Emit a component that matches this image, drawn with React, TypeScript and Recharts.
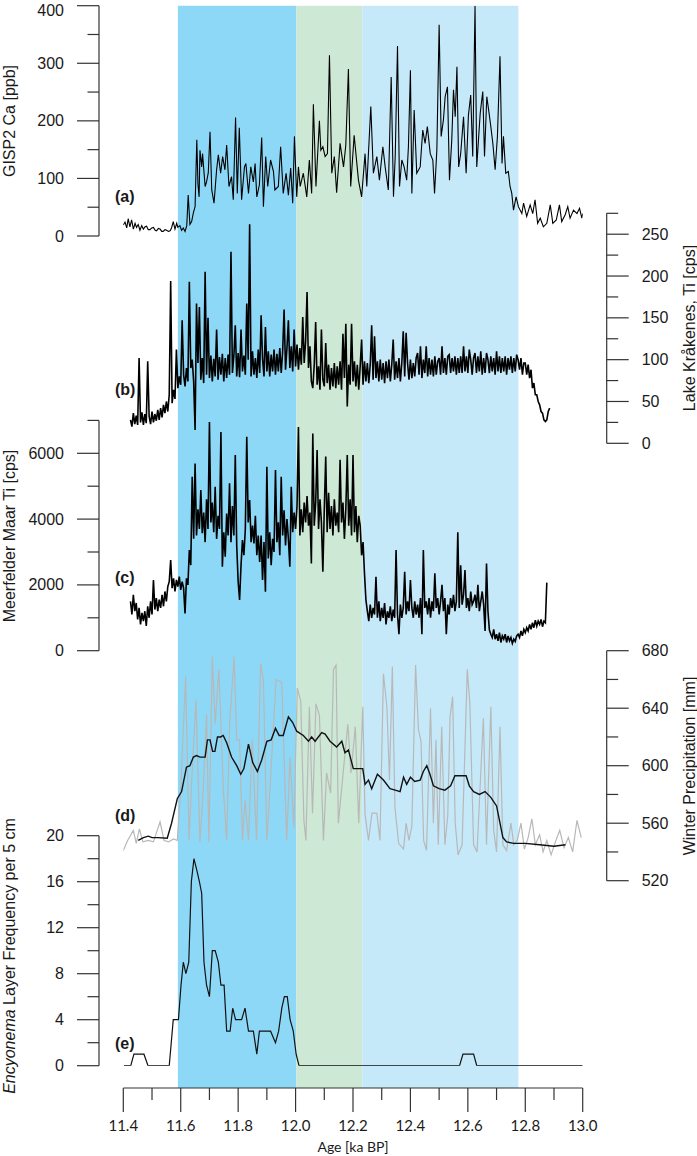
import { LineChart, Line, Area, XAxis, YAxis, ReferenceArea, ReferenceLine } from "recharts";

const W = 697;
const H = 1156;
const PLOT_L = 99;
const PLOT_R = 606.7;
const X_PAD = { left: 24.3, right: 24 };
const AGE_DOMAIN: [number, number] = [11.4, 13.0];
const AXIS = "#333";
const FONT = "'Liberation Sans', Arial, sans-serif";

const X_TICKS = [11.4, 11.5, 11.6, 11.7, 11.8, 11.9, 12.0, 12.1, 12.2, 12.3, 12.4, 12.5, 12.6, 12.7, 12.8, 12.9, 13.0];

// shaded intervals [from, to, colour]
const BANDS: [number, number, string][] = [
  [11.59, 12.003, "#8ed8f7"],
  [12.003, 12.232, "#cde8d4"],
  [12.232, 12.776, "#c6e9fa"],
];

// (a) GISP2 Ca [ppb]
const gispAge = [
  11.400, 11.406, 11.412, 11.417, 11.423, 11.429, 11.435, 11.441, 11.446, 11.452, 11.458, 11.464, 11.470, 11.476,
  11.481, 11.487, 11.493, 11.499, 11.505, 11.511, 11.516, 11.522, 11.528, 11.534, 11.539, 11.545, 11.551, 11.557,
  11.563, 11.568, 11.574, 11.580, 11.586, 11.590, 11.597, 11.603, 11.609, 11.615, 11.621, 11.626, 11.632, 11.638,
  11.644, 11.650, 11.656, 11.660, 11.664, 11.667, 11.673, 11.676, 11.685, 11.690, 11.696, 11.702, 11.708, 11.716,
  11.725, 11.731, 11.739, 11.746, 11.754, 11.760, 11.768, 11.777, 11.783, 11.791, 11.797, 11.804, 11.812, 11.822,
  11.827, 11.836, 11.844, 11.853, 11.859, 11.865, 11.874, 11.882, 11.888, 11.896, 11.903, 11.913, 11.923, 11.928,
  11.940, 11.948, 11.957, 11.967, 11.975, 11.983, 11.990, 11.996, 12.004, 12.010, 12.016, 12.027, 12.039, 12.048,
  12.056, 12.062, 12.071, 12.083, 12.088, 12.095, 12.103, 12.111, 12.118, 12.126, 12.135, 12.143, 12.155, 12.167,
  12.175, 12.184, 12.192, 12.204, 12.219, 12.230, 12.242, 12.248, 12.262, 12.271, 12.283, 12.292, 12.304, 12.312,
  12.323, 12.333, 12.341, 12.347, 12.355, 12.362, 12.370, 12.378, 12.387, 12.393, 12.400, 12.405, 12.413, 12.422,
  12.434, 12.443, 12.451, 12.459, 12.469, 12.478, 12.484, 12.492, 12.500, 12.507, 12.515, 12.521, 12.529, 12.536,
  12.544, 12.550, 12.556, 12.562, 12.568, 12.575, 12.585, 12.594, 12.602, 12.610, 12.617, 12.625, 12.631, 12.637,
  12.643, 12.652, 12.658, 12.666, 12.674, 12.680, 12.687, 12.695, 12.703, 12.712, 12.719, 12.724, 12.732, 12.741,
  12.747, 12.753, 12.759, 12.768, 12.776, 12.788, 12.794, 12.805, 12.817, 12.826, 12.834, 12.843, 12.852, 12.863,
  12.875, 12.887, 12.896, 12.908, 12.919, 12.927, 12.939, 12.948, 12.956, 12.968, 12.980, 12.989, 12.997, 13.000,
];
const gispCa = [
  19, 24, 14, 30, 16, 28, 12, 22, 15, 20, 10, 18, 12, 16,
  17, 11, 11, 14, 15, 10, 9, 13, 12, 8, 8, 11, 10, 8,
  9, 14, 25, 12, 22, 15, 18, 10, 14, 8, 18, 71, 20, 25,
  40, 51, 167, 90, 68, 149, 120, 143, 86, 94, 110, 181, 80, 57,
  115, 141, 109, 138, 115, 158, 86, 103, 63, 206, 74, 188, 63, 120,
  126, 74, 120, 94, 126, 68, 89, 171, 51, 138, 86, 132, 112, 80,
  86, 155, 74, 109, 71, 118, 57, 173, 68, 120, 86, 109, 68, 132,
  74, 229, 86, 200, 149, 155, 138, 143, 314, 109, 138, 75, 161, 120,
  158, 290, 86, 175, 97, 68, 143, 86, 225, 109, 138, 97, 155, 120,
  80, 276, 68, 138, 330, 86, 132, 120, 97, 155, 288, 74, 219, 109,
  120, 184, 161, 190, 143, 132, 74, 149, 367, 173, 202, 242, 259, 97,
  167, 254, 207, 294, 120, 143, 207, 109, 210, 245, 138, 400, 120, 167,
  213, 251, 138, 242, 213, 190, 161, 115, 173, 312, 126, 173, 109, 112,
  86, 74, 45, 68, 51, 39, 57, 34, 54, 39, 63, 22, 31, 16,
  22, 54, 22, 28, 54, 25, 37, 51, 31, 45, 39, 48, 31, 39,
];

// (b) Lake Kråkenes Ti [cps]; 5 samples per 0.025 ka block, first block at 11.425
const KRAK_START = 11.425;
const krakBlocks = [
  [28, 20, 36, 23, 33], [22, 102, 25, 37, 22], [35, 24, 98, 32, 23], [38, 25, 35, 27, 40], [28, 42, 31, 46, 36],
  [50, 38, 58, 194, 48], [64, 53, 112, 66, 80], [70, 147, 82, 68, 90], [74, 193, 90, 100, 74], [16, 167, 96, 163, 76],
  [102, 72, 205, 82, 150], [78, 105, 74, 101, 80], [136, 76, 103, 82, 107], [74, 102, 78, 106, 82], [229, 84, 104, 141, 80],
  [108, 79, 136, 86, 105], [82, 167, 100, 262, 80], [110, 82, 102, 78, 112], [84, 153, 101, 80, 139], [86, 110, 80, 106, 86],
  [112, 82, 107, 86, 114], [84, 110, 160, 88, 114], [147, 90, 116, 86, 136], [92, 118, 88, 114, 94], [151, 96, 122, 181, 90],
  [116, 74, 66, 94, 145], [70, 92, 64, 136, 76], [68, 120, 72, 94, 64], [90, 68, 96, 66, 92], [70, 98, 64, 131, 78],
  [143, 44, 94, 70, 143], [74, 98, 68, 94, 64], [92, 124, 70, 98, 74], [96, 72, 94, 141, 76], [128, 78, 98, 74, 100],
  [76, 96, 72, 98, 78], [100, 74, 94, 124, 76], [98, 78, 102, 74, 96], [134, 80, 132, 96, 76], [100, 78, 96, 80, 102],
  [108, 82, 116, 78, 100], [84, 116, 80, 102, 82], [100, 80, 104, 82, 98], [102, 82, 116, 84, 102], [82, 104, 106, 84, 102],
  [86, 104, 82, 102, 84], [104, 84, 116, 86, 104], [84, 112, 100, 82, 102], [108, 84, 104, 86, 110], [82, 102, 84, 108, 100],
  [84, 104, 86, 102, 82], [110, 86, 104, 84, 102], [86, 104, 82, 102, 88], [104, 84, 102, 86, 106], [100, 88, 102, 82, 96],
  [96, 82, 94, 78, 88], [66, 72, 58, 58, 50], [46, 38, 36, 28, 26], [28, 38, 42],
];

// (c) Meerfelder Maar Ti [cps]; same block layout
const MFM_START = 11.425;
const mfmBlocks = [
  [1500, 1100, 1700, 1200, 1450], [950, 1300, 800, 1150, 900], [1200, 750, 1350, 1000, 1500], [1100, 2150, 1250, 1600, 1200],
  [1550, 1300, 1700, 1350, 1800], [1500, 1950, 2100, 2755, 1900], [2200, 1800, 2150, 1950, 2250], [1850, 2100, 1900, 1135, 2200],
  [2000, 3060, 2600, 5290, 3400], [5690, 3500, 4300, 3700, 4880], [3570, 4200, 3300, 4600, 3700], [6950, 3900, 4500, 3600, 4980],
  [3400, 4100, 3700, 6650, 2550], [3600, 2860, 4170, 3500, 5090], [3300, 4400, 3500, 5950, 3200], [2100, 1540, 2600, 3360, 2900],
  [3700, 6500, 3900, 4580, 3300], [3800, 3260, 4100, 2900, 3500], [2700, 3500, 2150, 3300, 1790], [5590, 2800, 3600, 2600, 3400],
  [3000, 5490, 3300, 3900, 2900], [5290, 3500, 4270, 3200, 4000], [3400, 2550, 4980, 3600, 4200], [3700, 4400, 6800, 3500, 4300],
  [3600, 4500, 3900, 4700, 3800], [4200, 2650, 6600, 3800, 4500], [6100, 3700, 4600, 3900, 2400], [4300, 5900, 3600, 4800, 3700],
  [4400, 3500, 4600, 3800, 4200], [3600, 5800, 3900, 4500, 3400], [4300, 5950, 3800, 4600, 3500], [5950, 3600, 4400, 3300, 4100],
  [3800, 2900, 3300, 2350, 1540], [1200, 900, 1400, 1000, 1300], [1100, 2250, 1000, 1500, 900], [1300, 1000, 1450, 800, 1200],
  [1000, 1350, 900, 1250, 1000], [3060, 1100, 500, 1400, 1000], [1300, 2400, 1100, 1500, 1200], [2150, 1300, 1000, 1500, 1100],
  [1400, 1000, 1600, 500, 3060], [1300, 1500, 1100, 1600, 1000], [1500, 1200, 2350, 1300, 1600], [1100, 1500, 2000, 1200, 1600],
  [500, 1400, 1100, 1600, 1300], [1700, 1200, 1500, 3600, 1300], [2600, 1400, 1700, 2450, 1300], [1600, 1200, 1800, 1400, 1500],
  [1700, 1300, 2000, 1200, 1500], [1800, 1400, 600, 2650, 1200], [630, 500, 400, 650, 350], [500, 300, 550, 250, 450],
  [350, 500, 250, 450, 300], [400, 220, 350, 280, 450], [500, 400, 600, 450, 650], [550, 700, 600, 800, 650],
  [850, 700, 930, 750, 900], [800, 950, 730, 900, 850], [2070],
];

// (d) Winter precipitation [mm]
const precipAge = [
  11.400, 11.415, 11.435, 11.445, 11.456, 11.468, 11.487, 11.505, 11.528, 11.542, 11.558, 11.575, 11.588, 11.600,
  11.617, 11.629, 11.637, 11.653, 11.667, 11.678, 11.690, 11.698, 11.710, 11.720, 11.733, 11.748, 11.760, 11.771,
  11.786, 11.795, 11.805, 11.815, 11.824, 11.836, 11.849, 11.864, 11.878, 11.888, 11.900, 11.912, 11.932, 11.952,
  11.969, 11.981, 11.994, 12.006, 12.018, 12.029, 12.036, 12.048, 12.059, 12.071, 12.083, 12.097, 12.108, 12.122,
  12.132, 12.141, 12.149, 12.160, 12.182, 12.193, 12.208, 12.220, 12.234, 12.242, 12.254, 12.266, 12.283, 12.294,
  12.306, 12.318, 12.327, 12.337, 12.346, 12.359, 12.376, 12.385, 12.395, 12.405, 12.418, 12.428, 12.437, 12.446,
  12.456, 12.470, 12.480, 12.489, 12.497, 12.509, 12.520, 12.530, 12.538, 12.547, 12.556, 12.566, 12.580, 12.598,
  12.607, 12.620, 12.632, 12.654, 12.665, 12.680, 12.690, 12.700, 12.712, 12.722, 12.735, 12.750, 12.760, 12.772,
  12.785, 12.797, 12.810, 12.823, 12.835, 12.850, 12.862, 12.875, 12.890, 12.905, 12.920, 12.935, 12.950, 12.965,
  12.980, 12.995,
];
const precipMm = [
  541, 548, 555, 546, 556, 547, 548, 547, 561, 548, 547, 549, 548, 583,
  662, 548, 585, 646, 547, 582, 636, 547, 676, 629, 667, 585, 548, 632,
  676, 618, 618, 548, 576, 548, 618, 548, 671, 660, 548, 588, 660, 658,
  548, 606, 557, 654, 645, 562, 548, 641, 567, 643, 635, 548, 595, 581,
  667, 670, 560, 583, 629, 595, 627, 560, 641, 566, 548, 567, 567, 548,
  664, 641, 590, 669, 571, 546, 542, 560, 548, 558, 670, 625, 617, 548,
  541, 640, 560, 618, 545, 627, 545, 565, 634, 648, 560, 538, 545, 667,
  643, 545, 540, 633, 545, 641, 555, 540, 627, 545, 541, 560, 545, 548,
  560, 542, 550, 563, 545, 552, 540, 548, 538, 547, 555, 543, 550, 540,
  562, 550,
];
const smoothAge = [
  11.452, 11.470, 11.487, 11.500, 11.520, 11.553, 11.568, 11.588, 11.603, 11.620, 11.632, 11.644, 11.655, 11.667,
  11.685, 11.693, 11.702, 11.711, 11.719, 11.728, 11.739, 11.748, 11.760, 11.777, 11.795, 11.809, 11.820, 11.836,
  11.851, 11.867, 11.882, 11.900, 11.915, 11.930, 11.943, 11.957, 11.975, 11.990, 12.004, 12.027, 12.045, 12.056,
  12.068, 12.091, 12.103, 12.120, 12.143, 12.161, 12.172, 12.184, 12.201, 12.218, 12.234, 12.242, 12.254, 12.265,
  12.285, 12.306, 12.329, 12.347, 12.364, 12.376, 12.387, 12.400, 12.415, 12.434, 12.445, 12.457, 12.468, 12.480,
  12.500, 12.520, 12.540, 12.555, 12.575, 12.594, 12.605, 12.620, 12.640, 12.660, 12.680, 12.700, 12.712, 12.722,
  12.735, 12.760, 12.800, 12.850, 12.900, 12.940,
];
const smoothMm = [
  548, 550, 551, 550, 550, 549.5, 560, 577, 582, 599, 600, 606, 607, 606,
  606, 618, 618, 610, 610, 620, 620, 621, 616, 606, 600, 594, 598, 615,
  602, 596, 604, 617, 618, 626, 621, 621, 634, 630, 624, 621, 617, 620,
  617, 623, 622, 617, 613, 617, 609, 611, 598, 598, 598, 587, 590, 584,
  594, 590, 584, 583, 582, 592, 587, 592, 589, 590, 596, 600, 594, 586,
  584, 583, 586, 593, 593, 593, 586, 582, 580, 582, 578, 572, 560, 550,
  547, 546, 546, 545, 544, 545,
];

// (e) Encyonema layer frequency per 5 cm
const encAge = [
  11.402, 11.426, 11.437, 11.472, 11.486, 11.560, 11.574, 11.592, 11.601, 11.609, 11.618, 11.628, 11.637, 11.646,
  11.656, 11.665, 11.673, 11.681, 11.690, 11.700, 11.710, 11.720, 11.731, 11.740, 11.751, 11.760, 11.772, 11.781,
  11.791, 11.812, 11.824, 11.836, 11.853, 11.865, 11.874, 11.913, 11.930, 11.941, 11.952, 11.961, 11.971, 11.981,
  11.992, 12.002, 12.012, 12.571, 12.583, 12.620, 12.631, 13.000,
];
const encFreq = [
  0, 0, 1, 1, 0, 0, 4, 4, 7, 9, 8, 9, 16, 18,
  17, 16, 15, 9, 7, 6, 10, 10, 9, 7, 7, 3, 3, 5,
  4, 4, 5, 3, 3, 1, 3, 3, 2, 3, 5, 6, 6, 4,
  3, 1, 0, 0, 1, 1, 0, 0,
];

const pairs = (ages: number[], vals: number[]) => ages.map((age, i) => ({ age, v: vals[i] }));
const fromBlocks = (start: number, blocks: number[][]) =>
  blocks.flatMap((b, bi) => b.map((v, j) => ({ age: +(start + bi * 0.025 + j * 0.005).toFixed(3), v })));

const gispData = pairs(gispAge, gispCa);
const krakData = fromBlocks(KRAK_START, krakBlocks);
const mfmData = fromBlocks(MFM_START, mfmBlocks);
const precipData = pairs(precipAge, precipMm);
const smoothData = pairs(smoothAge, smoothMm);
const encData = pairs(encAge, encFreq);

const range = (a: number, b: number, s: number) => {
  const out: number[] = [];
  for (let v = a; v <= b; v += s) out.push(v);
  return out;
};

function yTick(side: "left" | "right", isMajor: (v: number) => boolean) {
  return (props: any) => {
    const { x, y, payload } = props;
    const v = payload.value as number;
    const major = isMajor(v);
    const dir = side === "left" ? -1 : 1;
    const len = major ? 22 : 11.5;
    return (
      <g>
        <line x1={x} y1={y} x2={x + dir * len} y2={y} stroke={AXIS} strokeWidth={1.2} />
        {major && (
          <text
            x={x + dir * 35}
            y={Math.max(y, 10)}
            textAnchor={side === "left" ? "end" : "start"}
            dominantBaseline="central"
            fontFamily={FONT}
            fontSize={16}
            fill="#1a1a1a"
          >
            {v}
          </text>
        )}
      </g>
    );
  };
}

function XTick(props: any) {
  const { x, y, payload } = props;
  const v = payload.value as number;
  const major = Math.round(v * 10) % 2 === 0;
  return (
    <g>
      <line x1={x} y1={y} x2={x} y2={y + (major ? 24 : 12)} stroke={AXIS} strokeWidth={1.2} />
      {major && (
        <text x={x} y={y + 37} textAnchor="middle" dominantBaseline="central" fontFamily="Lato, sans-serif" fontSize={15} fill="#1a1a1a">
          {v.toFixed(1)}
        </text>
      )}
    </g>
  );
}

interface PanelProps {
  side: "left" | "right";
  top: number;
  bottom: number;
  domain: [number, number];
  ticks: number[];
  isMajor: (v: number) => boolean;
  children: React.ReactNode;
}

function Panel({ side, top, bottom, domain, ticks, isMajor, children }: PanelProps) {
  const left = side === "left";
  return (
    <div style={{ position: "absolute", left: 0, top: 0 }}>
      <LineChart
        width={W}
        height={H}
        margin={{ top, bottom: H - bottom, left: left ? 0 : PLOT_L, right: left ? W - PLOT_R : 0 }}
      >
        <XAxis hide type="number" dataKey="age" domain={AGE_DOMAIN} padding={X_PAD} allowDataOverflow />
        <YAxis
          orientation={side}
          width={left ? PLOT_L : W - PLOT_R}
          type="number"
          domain={domain}
          ticks={ticks}
          interval={0}
          allowDataOverflow
          tickLine={false}
          tickSize={0}
          tickMargin={0}
          axisLine={{ stroke: AXIS, strokeWidth: 1.2 }}
          tick={yTick(side, isMajor)}
        />
        {children}
      </LineChart>
    </div>
  );
}

export default function App() {
  return (
    <div style={{ position: "absolute", left: 0, top: 0, width: W, height: H, background: "#fff" }}>
      <div style={{ position: "absolute", left: 0, top: 0 }}>
        <LineChart
          width={W}
          height={H}
          data={[{ age: 11.4, v: 0 }, { age: 13.0, v: 1 }]}
          margin={{ top: 5.7, bottom: 0, left: PLOT_L, right: W - PLOT_R }}
        >
          <XAxis
            type="number"
            dataKey="age"
            domain={AGE_DOMAIN}
            padding={X_PAD}
            ticks={X_TICKS}
            interval={0}
            height={68}
            axisLine={false}
            tickLine={false}
            tickSize={0}
            tickMargin={0}
            tick={XTick}
            allowDataOverflow
          />
          <YAxis hide type="number" domain={[0, 1]} allowDataOverflow />
          {BANDS.map(([a, b, c]) => (
            <ReferenceArea key={`r${a}`} x1={a} x2={b} y1={0} y2={1} fill={c} fillOpacity={1} stroke="none" ifOverflow="visible" />
          ))}
          {BANDS.map(([a, b, c]) => (
            <Area
              key={`a${a}`}
              data={[{ age: a, v: 1 }, { age: b, v: 1 }]}
              dataKey="v"
              type="linear"
              baseValue={0}
              stroke="none"
              fill={c}
              fillOpacity={1}
              dot={false}
              activeDot={false}
              isAnimationActive={false}
            />
          ))}
          <ReferenceLine segment={[{ x: 11.4, y: 0 }, { x: 13.0, y: 0 }]} stroke={AXIS} strokeWidth={1.2} />
        </LineChart>
      </div>

      <Panel side="left" top={5.7} bottom={236} domain={[0, 400]} ticks={range(0, 400, 50)} isMajor={(v) => v % 100 === 0}>
        <Line data={gispData} dataKey="v" stroke="#000" strokeWidth={1.1} dot={false} isAnimationActive={false} />
      </Panel>

      <Panel side="right" top={213.3} bottom={443.3} domain={[0, 275]} ticks={range(0, 275, 25)} isMajor={(v) => v % 50 === 0}>
        <Line data={krakData} dataKey="v" stroke="#000" strokeWidth={1.6} dot={false} isAnimationActive={false} />
      </Panel>

      <Panel side="left" top={420.4} bottom={650.7} domain={[0, 7000]} ticks={range(0, 7000, 1000)} isMajor={(v) => v % 2000 === 0}>
        <Line data={mfmData} dataKey="v" stroke="#000" strokeWidth={1.6} dot={false} isAnimationActive={false} />
      </Panel>

      <Panel side="right" top={650.7} bottom={880.7} domain={[520, 680]} ticks={range(520, 680, 20)} isMajor={(v) => (v - 520) % 40 === 0}>
        <Line data={precipData} dataKey="v" stroke="#b8b8b8" strokeWidth={1.2} dot={false} isAnimationActive={false} />
        <Line data={smoothData} dataKey="v" stroke="#111" strokeWidth={1.4} dot={false} isAnimationActive={false} />
      </Panel>

      <Panel side="left" top={835.7} bottom={1065.7} domain={[0, 20]} ticks={range(0, 20, 2)} isMajor={(v) => v % 4 === 0}>
        <Line data={encData} dataKey="v" stroke="#111" strokeWidth={1.2} dot={false} isAnimationActive={false} />
      </Panel>

      <svg width={W} height={H} style={{ position: "absolute", left: 0, top: 0, pointerEvents: "none" }}>
        <g fontFamily={FONT} fontSize={16} fill="#1a1a1a" textAnchor="middle" dominantBaseline="central">
          <text transform="translate(9,121) rotate(-90)">GISP2 Ca [ppb]</text>
          <text transform="translate(689,328) rotate(-90)">Lake Kråkenes, Ti [cps]</text>
          <text transform="translate(9,536) rotate(-90)">Meerfelder Maar Ti [cps]</text>
          <text transform="translate(689,766) rotate(-90)">Winter Precipitation [mm]</text>
          <text transform="translate(9,956) rotate(-90)">
            <tspan fontStyle="italic">Encyonema</tspan> Layer Frequency per 5 cm
          </text>
        </g>
        <g fontFamily={FONT} fontSize={16} fontWeight="bold" fill="#1a1a1a" dominantBaseline="central">
          <text x={115} y={196}>(a)</text>
          <text x={115} y={389}>(b)</text>
          <text x={115} y={577}>(c)</text>
          <text x={115} y={815}>(d)</text>
          <text x={115} y={1043}>(e)</text>
        </g>
        <text x={353} y={1146} textAnchor="middle" dominantBaseline="central" fontFamily="Lato, sans-serif" fontSize={14} fill="#1a1a1a">
          Age [ka BP]
        </text>
      </svg>
    </div>
  );
}
